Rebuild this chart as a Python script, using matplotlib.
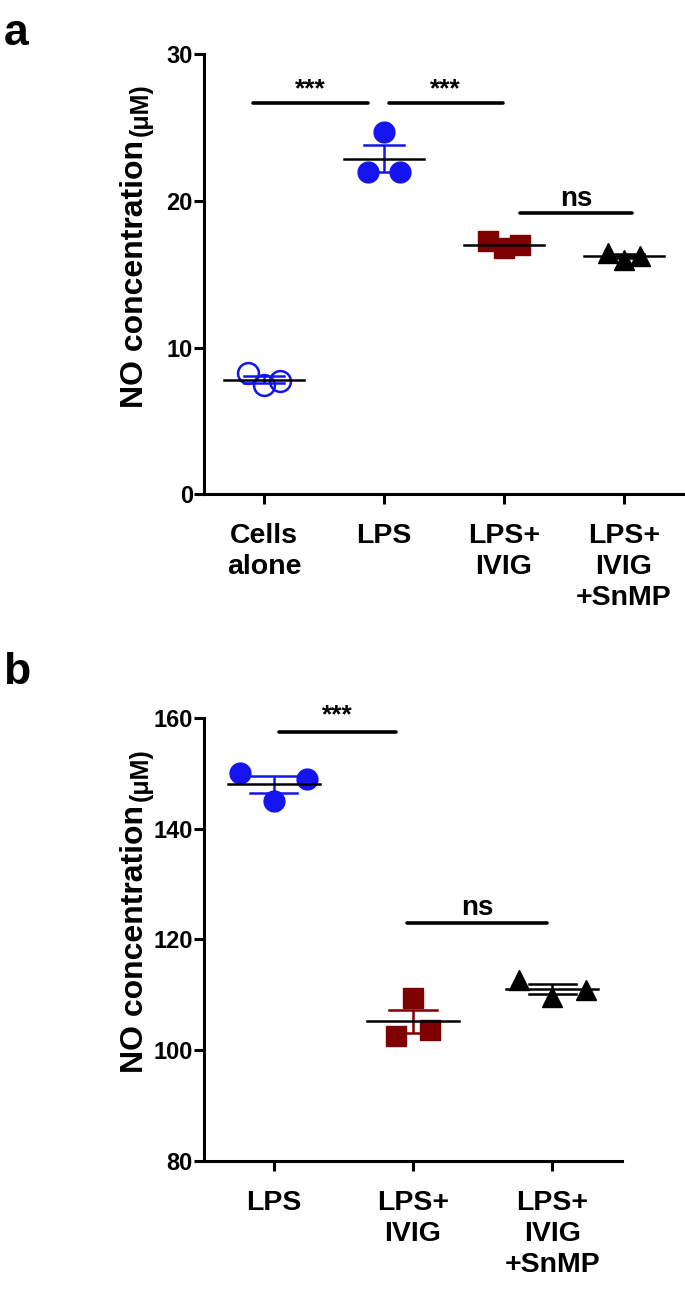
import matplotlib
matplotlib.use("Agg")
import matplotlib.pyplot as plt
import matplotlib.font_manager as fm
import numpy as np

# drop the Narrow cut so "Liberation Sans" bold is the normal width one
fm.fontManager.ttflist = [f for f in fm.fontManager.ttflist if "Narrow" not in f.fname]
fm.fontManager._findfont_cached.cache_clear()

plt.rcParams["font.family"] = ["Liberation Sans", "DejaVu Sans"]
plt.rcParams["font.weight"] = "bold"

# panel a
groups_a = ["Cells\nalone", "LPS", "LPS+\nIVIG", "LPS+\nIVIG\n+SnMP"]
cells_alone = [8.25, 7.45, 7.75]
lps_a = [21.95, 24.7, 21.95]
lps_ivig_a = [17.25, 16.8, 17.0]
lps_ivig_snmp_a = [16.45, 16.0, 16.25]

# panel b
groups_b = ["LPS", "LPS+\nIVIG", "LPS+\nIVIG\n+SnMP"]
lps_b = [150.1, 145.0, 149.0]
lps_ivig_b = [102.6, 109.4, 103.7]
lps_ivig_snmp_b = [112.6, 109.7, 110.8]

blue = "#1414f0"
red = "#7f0000"

fig = plt.figure(figsize=(6.85, 12.97), dpi=100)


def group(ax, i, vals, color, marker, jit, filled=True):
    vals = np.array(vals)
    xs = i + np.array(jit)
    if filled:
        ax.plot(xs, vals, ls="none", marker=marker, ms=15, color=color, mec=color, zorder=2)
    else:
        ax.plot(xs, vals, ls="none", marker=marker, ms=15, mfc="none", mec=color, mew=1.8, zorder=2)
    m = vals.mean()
    sem = vals.std(ddof=1) / np.sqrt(len(vals))
    ax.plot([i - 0.33, i + 0.33], [m, m], color="black", lw=1.8, zorder=4)
    ax.errorbar(i, m, yerr=sem, color=color, lw=1.8, capsize=0, zorder=3)
    ax.plot([i - 0.17, i + 0.17], [m + sem, m + sem], color=color, lw=1.8, zorder=3)
    ax.plot([i - 0.17, i + 0.17], [m - sem, m - sem], color=color, lw=1.8, zorder=3)


def style(ax, labels, w_px):
    for s in ["top", "right"]:
        ax.spines[s].set_visible(False)
    for s in ["left", "bottom"]:
        ax.spines[s].set_linewidth(2.2)
    ax.set_xticks(range(len(labels)))
    ax.set_xticklabels(labels, fontsize=20.5, fontweight="bold", linespacing=1.25)
    ax.set_xlim(-0.5, len(labels) - 0.5)
    ax.tick_params(axis="x", length=7, width=2.2, pad=14)
    ax.tick_params(axis="y", length=7, width=2.2, pad=1, labelsize=17)
    ax.set_ylabel("NO concentration", fontsize=23, fontweight="bold")
    ax.yaxis.set_label_coords(-54 / w_px, 0.5)


def unit(ax):
    # the (μM) part sits a little lower and smaller, just after the label
    bb = ax.yaxis.label.get_window_extent()
    fig.text((bb.x1 + 3) / fig.bbox.width, (bb.y1 + 4) / fig.bbox.height, "(μM)",
             rotation=90, ha="right", va="bottom", fontsize=18, fontweight="bold")


def sig(ax, x0, x1, y, txt, ty, size):
    ax.plot([x0, x1], [y, y], color="black", lw=2.6, solid_capstyle="round", clip_on=False)
    ax.text((x0 + x1) / 2, ty, txt, ha="center", va="center", fontsize=size, fontweight="bold", clip_on=False)


# ---- a
ax1 = fig.add_axes([0.2978, 0.619, 0.7008, 0.3392])
group(ax1, 0, cells_alone, blue, "o", [-0.13, 0, 0.13], filled=False)
group(ax1, 1, lps_a, blue, "o", [-0.13, 0, 0.13])
group(ax1, 2, lps_ivig_a, red, "s", [-0.13, 0, 0.13])
group(ax1, 3, lps_ivig_snmp_a, "black", "^", [-0.13, 0, 0.13])
ax1.set_ylim(0, 30)
ax1.set_yticks([0, 10, 20, 30])
style(ax1, groups_a, 480)
sig(ax1, -0.09, 0.87, 26.7, "***", 27.6, 19)
sig(ax1, 1.04, 1.99, 26.7, "***", 27.6, 19)
sig(ax1, 2.13, 3.07, 19.2, "ns", 20.1, 20)
fig.text(0.005, 0.99, "a", fontsize=32, fontweight="bold", va="top")

# ---- b
ax2 = fig.add_axes([0.2978, 0.1049, 0.6102, 0.3415])
group(ax2, 0, lps_b, blue, "o", [-0.24, 0, 0.24])
group(ax2, 1, lps_ivig_b, red, "s", [-0.12, 0, 0.12])
group(ax2, 2, lps_ivig_snmp_b, "black", "^", [-0.24, 0, 0.24])
ax2.set_ylim(80, 160)
ax2.set_yticks([80, 100, 120, 140, 160])
style(ax2, groups_b, 418)
sig(ax2, 0.04, 0.88, 157.5, "***", 160.5, 19)
sig(ax2, 0.96, 1.96, 123.0, "ns", 125.6, 20)
fig.text(0.005, 0.497, "b", fontsize=32, fontweight="bold", va="top")

fig.canvas.draw()
unit(ax1)
unit(ax2)

fig.savefig("out.png", dpi=100)
